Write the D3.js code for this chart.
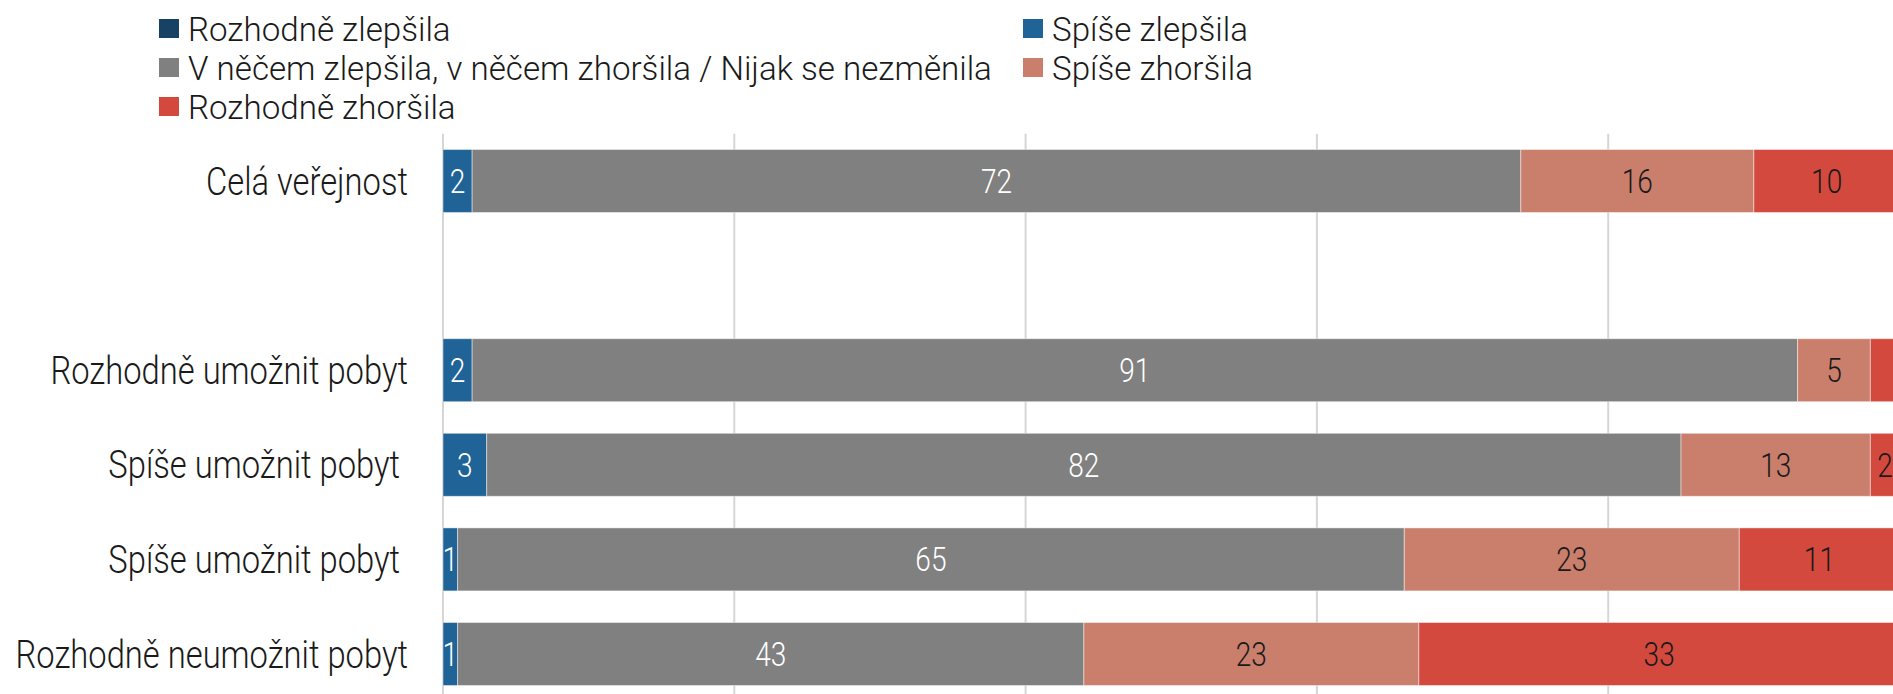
<!DOCTYPE html>
<html lang="cs">
<head>
<meta charset="utf-8">
<title>Změna situace – podle postoje k pobytu</title>
<script src="https://cdn.jsdelivr.net/npm/d3@7"></script>
<style>
  html, body { margin: 0; padding: 0; background: #fff; overflow: hidden; }
  svg { display: block; }
  text { font-family: Roboto, "Noto Sans", sans-serif; font-weight: 300; white-space: pre; }
</style>
</head>
<body>
<svg id="chart" width="1893" height="694"></svg>
<script>
// Row labels (the empty one is a spacer row between the total and the breakdown)
const categories = [
  "Celá veřejnost",
  "",
  "Rozhodně umožnit pobyt",
  "Spíše umožnit pobyt ",
  "Spíše umožnit pobyt ",
  "Rozhodně neumožnit pobyt"
];

// Series, in percent, one value per row (null = spacer row)
const rozhodneZlepsila = [0, null, 0, 0, 0, 0];
const spiseZlepsila    = [2, null, 2, 3, 1, 1];
const nijak            = [72, null, 91, 82, 65, 43];
const spiseZhorsila    = [16, null, 5, 13, 23, 23];
const rozhodneZhorsila = [10, null, 2, 2, 11, 33];

const seriesNames = [
  "Rozhodně zlepšila",
  "Spíše zlepšila",
  "V něčem zlepšila, v něčem zhoršila / Nijak se nezměnila",
  "Spíše zhoršila",
  "Rozhodně zhoršila"
];
const seriesValues = [rozhodneZlepsila, spiseZlepsila, nijak, spiseZhorsila, rozhodneZhorsila];
const seriesColors = ["#174263", "#1f6397", "#808080", "#ca7f6c", "#d3493d"];
const labelColors  = ["#ffffff", "#ffffff", "#ffffff", "#1a1a1a", "#1a1a1a"];

// Segments whose value label is not printed: [row index, series index]
const unlabeled = [[2, 4]];

// Grid ticks along the value axis
const xTicks = [0, 20, 40, 60, 80, 100];

// Legend layout: which series sits in which column/row
const legendOrder = [
  [0, 0, 0], [1, 1, 0],
  [2, 0, 1], [3, 1, 1],
  [4, 0, 2]
];

const svg = d3.select("#chart");
const W = 1893, H = 694;

// Rows as objects keyed by series name, for d3.stack
const rows = categories.map((c, i) => {
  const o = { idx: i, label: c, blank: seriesValues[0][i] === null };
  seriesNames.forEach((s, k) => { o[s] = seriesValues[k][i] ?? 0; });
  return o;
});

const stacked = d3.stack().keys(seriesNames)(rows);

const x = d3.scaleLinear().domain([0, 100]).range([443, 1899.5]);
const y = d3.scaleBand()
  .domain(d3.range(categories.length))
  .range([133.7, 133.7 + 94.6 * categories.length])
  .paddingInner(0.334)
  .paddingOuter(0.167);

// Narrowed text, drawn through a horizontal scale
function label(parent, px, py, str, size, anchor, fill, squeeze = 0.85) {
  const g = parent.append("g").attr("transform", `translate(${px},${py}) scale(${squeeze},1)`);
  g.append("text")
    .attr("text-anchor", anchor)
    .attr("dy", "0.355em")
    .attr("font-size", size)
    .attr("fill", fill)
    .text(str);
  return g;
}

// Vertical grid lines
svg.append("g").attr("class", "grid")
  .selectAll("line")
  .data(xTicks)
  .join("line")
  .attr("x1", d => x(d)).attr("x2", d => x(d))
  .attr("y1", y.range()[0]).attr("y2", H)
  .attr("stroke", "#d6d6d6")
  .attr("stroke-width", 2);

// Stacked bar segments
const layers = svg.append("g").attr("class", "bars")
  .selectAll("g")
  .data(stacked)
  .join("g")
  .attr("fill", (d, i) => seriesColors[i]);

layers.selectAll("rect")
  .data(d => d.filter(p => !p.data.blank && p[1] - p[0] > 0))
  .join("rect")
  .attr("x", p => x(p[0]))
  .attr("y", p => y(p.data.idx))
  .attr("width", p => x(p[1]) - x(p[0]))
  .attr("height", y.bandwidth())
  .attr("stroke", "rgba(255,255,255,0.45)")
  .attr("stroke-width", 1);

// Value labels centred in each segment
const valueLayer = svg.append("g").attr("class", "values");
stacked.forEach((layer, k) => {
  layer.forEach(p => {
    const v = p[1] - p[0];
    if (p.data.blank || v <= 0) return;
    if (unlabeled.some(([r, s]) => r === p.data.idx && s === k)) return;
    label(valueLayer, x((p[0] + p[1]) / 2), y(p.data.idx) + y.bandwidth() / 2,
      String(v), 33, "middle", labelColors[k]);
  });
});

// Category labels
const axisLayer = svg.append("g").attr("class", "y-axis");
rows.forEach(r => {
  if (r.blank) return;
  label(axisLayer, 408, y(r.idx) + y.bandwidth() / 2, r.label, 38.5, "end", "#1a1a1a");
});

// Legend
const legend = svg.append("g").attr("class", "legend");
const colX = [159, 1023];
const rowY = [28.5, 67.5, 106.5];
legendOrder.forEach(([s, c, r]) => {
  legend.append("rect")
    .attr("x", colX[c]).attr("y", rowY[r] - 9.5)
    .attr("width", 20).attr("height", 19)
    .attr("fill", seriesColors[s]);
  label(legend, colX[c] + 29, rowY[r], seriesNames[s], 34, "start", "#1a1a1a", 0.975);
});
</script>
</body>
</html>
